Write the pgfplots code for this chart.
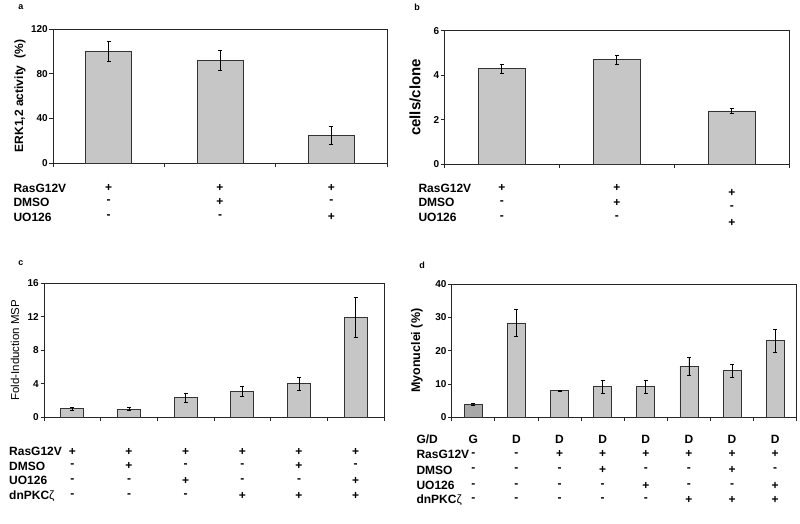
\documentclass[border=0pt]{standalone}
\usepackage{fontspec}
\setmainfont{Liberation Sans}
\usepackage{pgfplots}
\pgfplotsset{compat=1.18}

\definecolor{barfill}{HTML}{C6C6C6}
\definecolor{bardark}{HTML}{A8A8A8}

\pgfplotsset{
  panel/.style={
    scale only axis, ybar, bar shift=0pt, clip=false,
    ymin=0,
    xtick pos=left, ytick pos=left,
    tick align=outside, major tick length=3.5pt,
    xticklabels={},
    axis line style={line width=0.8pt, black!85},
    tick style={line width=0.8pt, black!85},
    /pgf/number format/assume math mode=true,
    yticklabel style={font=\bfseries\fontsize{10}{10}\selectfont, inner sep=1.5pt},
    ylabel style={font=\bfseries\fontsize{12}{12}\selectfont, anchor=center},
  },
  eb/.style={fill=barfill, draw=black!80, line width=0.7pt,
    error bars/y dir=both, error bars/y explicit,
    error bars/error bar style={black, line width=0.7pt},
    error bars/error mark options={black, mark size=2pt, line width=0.7pt, rotate=90}},
}
\tikzset{
  cell/.style={font=\bfseries\fontsize{12}{12}\selectfont},
  lbl/.style={font=\bfseries\fontsize{12}{12}\selectfont, anchor=west},
  tag/.style={font=\bfseries\fontsize{9}{9}\selectfont},
}

% one row of +/- cells under the bars, #1 = offset below y=0 in pt
\newcommand\cells[2]{%
  \foreach \s [count=\i from 0] in {#2} {%
    \edef\tmp{\noexpand\node[cell] at ([yshift=#1pt]axis cs:\i,0) {\s};}\tmp
  }}

\begin{document}
\begin{tikzpicture}
\useasboundingbox (0,0) rectangle (800pt,-524pt);

% ---------- a ----------
\begin{axis}[panel, at={(53pt,-163pt)}, width=334pt, height=134pt,
    xmin=-0.5, xmax=2.5, xtick={-0.5,0.5,1.5,2.5},
    ymax=120, ytick={0,40,80,120}, bar width=46pt,
    ylabel={ERK1,2 activity\ \ (\%)},
    ylabel style={at={(axis description cs:-0.099,0.5)}}]
\addplot[eb] coordinates {(0,100) +- (0,9) (1,92) +- (0,9) (2,25) +- (0,8)};
\cells{-25}{+,+,+}
\cells{-39}{-,+,-}
\cells{-54}{-,-,+}
\end{axis}

% ---------- b ----------
\begin{axis}[panel, at={(444.3pt,-164.3pt)}, width=345pt, height=133.6pt,
    xmin=-0.5, xmax=2.5, xtick={-0.5,0.5,1.5,2.5},
    ymax=6, ytick={0,2,4,6}, bar width=47pt,
    ylabel={cells/clone},
    ylabel style={font=\bfseries\fontsize{15}{15}\selectfont,
      at={(axis description cs:-0.085,0.5)}}]
\addplot[eb] coordinates {(0,4.3) +- (0,0.2) (1,4.7) +- (0,0.2) (2,2.4) +- (0,0.1)};
\cells{-24}{+,+}
\cells{-38.5}{-,+}
\cells{-53}{-,-}
\node[cell] at ([yshift=-29pt]axis cs:2,0) {+};
\node[cell] at ([yshift=-43pt]axis cs:2,0) {-};
\node[cell] at ([yshift=-59pt]axis cs:2,0) {+};
\end{axis}

% ---------- c ----------
\begin{axis}[panel, at={(44pt,-417pt)}, width=340pt, height=133.7pt,
    xmin=-0.5, xmax=5.5, xtick={-0.5,0.5,...,5.5},
    ymax=16, ytick={0,4,8,12,16}, bar width=23pt,
    ylabel={Fold-Induction MSP},
    ylabel style={font=\fontsize{11.5}{11.5}\selectfont,
      at={(axis description cs:-0.085,0.5)}}]
\addplot[eb] coordinates {(0,1.0) +- (0,0.15) (1,0.95) +- (0,0.2) (2,2.3) +- (0,0.5)
  (3,3.1) +- (0,0.6) (4,4.0) +- (0,0.8) (5,11.9) +- (0,2.4)};
\cells{-34.7}{+,+,+,+,+,+}
\cells{-49}{-,+,-,-,+,-}
\cells{-63.7}{-,-,+,-,-,+}
\cells{-79}{-,-,-,+,+,+}
\end{axis}

% ---------- d ----------
\begin{axis}[panel, at={(451.7pt,-417.3pt)}, width=345pt, height=133.3pt,
    xmin=-0.5, xmax=7.5, xtick={-0.5,0.5,...,7.5},
    ymax=40, ytick={0,10,20,30,40}, bar width=18pt,
    ylabel={Myonuclei (\%)},
    ylabel style={font=\bfseries\fontsize{12.5}{12.5}\selectfont,
      at={(axis description cs:-0.101,0.5)}}]
\addplot[eb, fill=bardark] coordinates {(0,3.8) +- (0,0.3)};
\addplot[eb] coordinates {(1,28.3) +- (0,4.0) (2,8.0) +- (0,0.2) (3,9.2) +- (0,2.0)
  (4,9.2) +- (0,2.0) (5,15.3) +- (0,2.7) (6,14.0) +- (0,2.0) (7,23.0) +- (0,3.5)};
\cells{-21.7}{G,D,D,D,D,D,D,D}
\cells{-37}{-,-,+,+,+,+,+,+}
\cells{-52.7}{-,-,-,+,-,-,+,-}
\cells{-68.4}{-,-,-,-,+,-,-,+}
\cells{-82.7}{-,-,-,-,-,+,+,+}
\end{axis}

% row labels
\node[lbl] at (10pt,-188pt) {RasG12V};
\node[lbl] at (10pt,-202pt) {DMSO};
\node[lbl] at (10pt,-217pt) {UO126};
\node[lbl] at (415pt,-188pt) {RasG12V};
\node[lbl] at (415pt,-202.8pt) {DMSO};
\node[lbl] at (415pt,-217pt) {UO126};
\node[lbl] at (5.7pt,-451.7pt) {RasG12V};
\node[lbl] at (5.7pt,-466pt) {DMSO};
\node[lbl] at (5.7pt,-480.7pt) {UO126};
\node[lbl] at (5.7pt,-496pt) {dnPKC{\mdseries ζ}};
\node[lbl] at (413pt,-439pt) {G/D};
\node[lbl] at (413pt,-454.3pt) {RasG12V};
\node[lbl] at (413pt,-470pt) {DMSO};
\node[lbl] at (413pt,-485.7pt) {UO126};
\node[lbl] at (413pt,-500pt) {dnPKC{\mdseries ζ}};

% panel letters
\node[tag] at (21pt,-7pt) {a};
\node[tag] at (417pt,-7pt) {b};
\node[tag] at (21pt,-263pt) {c};
\node[tag] at (422pt,-265pt) {d};
\end{tikzpicture}
\end{document}
